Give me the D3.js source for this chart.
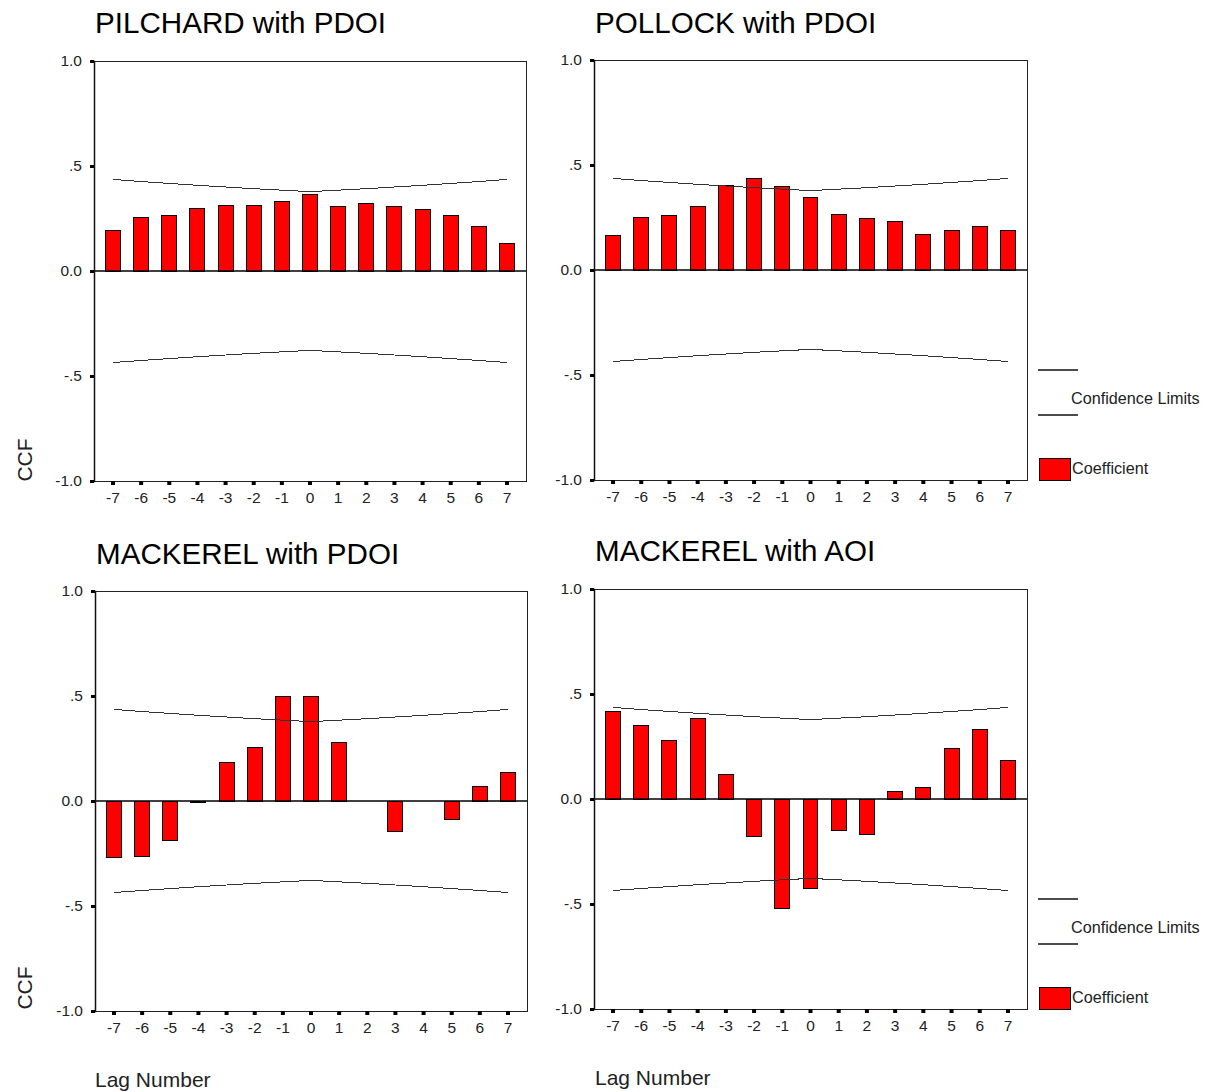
<!DOCTYPE html>
<html>
<head>
<meta charset="utf-8">
<script src="https://cdn.jsdelivr.net/npm/d3@7"></script>
<style>
  html, body { margin: 0; padding: 0; background: #fff; }
  svg { display: block; font-family: "Liberation Sans", Arial, sans-serif; }
</style>
</head>
<body>
<svg id="chart" width="1205" height="1092"></svg>
<script>
// Lags of the cross-correlation function
const lags = [-7, -6, -5, -4, -3, -2, -1, 0, 1, 2, 3, 4, 5, 6, 7];

// Y axis ticks and their printed labels
const yTicks = [1, 0.5, 0, -0.5, -1];
const yTickLabels = ["1.0", ".5", "0.0", "-.5", "-1.0"];

// Upper confidence limit per lag (lower limit is the negative)
const confLimit = [0.436, 0.426, 0.417, 0.408, 0.400, 0.392, 0.385, 0.378,
                   0.385, 0.392, 0.400, 0.408, 0.417, 0.426, 0.436];

// Cross-correlation coefficients per lag
const pilchardPdoi = [0.195, 0.254, 0.263, 0.298, 0.314, 0.314, 0.329, 0.365,
                      0.306, 0.321, 0.306, 0.292, 0.263, 0.211, 0.130];
const pollockPdoi  = [0.162, 0.249, 0.259, 0.302, 0.402, 0.435, 0.398, 0.346,
                      0.265, 0.243, 0.229, 0.170, 0.190, 0.205, 0.190];
const mackerelPdoi = [-0.270, -0.262, -0.190, -0.008, 0.182, 0.257, 0.498, 0.498,
                      0.278, 0.000, -0.146, 0.000, -0.088, 0.067, 0.138];
const mackerelAoi  = [0.418, 0.351, 0.278, 0.381, 0.118, -0.178, -0.522, -0.425,
                      -0.148, -0.170, 0.037, 0.057, 0.241, 0.329, 0.182];

const titles = ["PILCHARD with PDOI", "POLLOCK with PDOI", "MACKEREL with PDOI", "MACKEREL with AOI"];
const seriesList = [pilchardPdoi, pollockPdoi, mackerelPdoi, mackerelAoi];

// Panel placement (plot frame origin, title baseline)
const layout = [
  { x: 94,  y: 61,  w: 432, titleY: 33 },
  { x: 594, y: 60,  w: 433, titleY: 33 },
  { x: 95,  y: 591, w: 432, titleY: 564 },
  { x: 594, y: 589, w: 433, titleY: 561 }
];
const plotH = 420;

const svg = d3.select("#chart");

layout.forEach((L, i) => {
  const data = lags.map((lag, j) => ({ lag, value: seriesList[i][j], limit: confLimit[j] }));

  const x = d3.scaleBand().domain(lags).range([0, L.w]).paddingInner(0.47).paddingOuter(0.41);
  const y = d3.scaleLinear().domain([-1, 1]).range([plotH, 0]);

  // title
  svg.append("text")
    .attr("x", L.x + 1).attr("y", L.titleY)
    .attr("font-size", 29.6).attr("fill", "#000")
    .text(titles[i]);

  const g = svg.append("g").attr("transform", `translate(${L.x},${L.y})`);

  // frame
  g.append("rect")
    .attr("x", 0).attr("y", 0).attr("width", L.w).attr("height", plotH)
    .attr("fill", "none").attr("stroke", "#222").attr("stroke-width", 1)
    .attr("shape-rendering", "crispEdges");

  // bars
  g.selectAll("rect.bar").data(data).join("rect")
    .attr("class", "bar")
    .attr("x", d => x(d.lag))
    .attr("width", x.bandwidth())
    .attr("y", d => y(Math.max(0, d.value)))
    .attr("height", d => Math.abs(y(d.value) - y(0)))
    .attr("fill", "#ff0000")
    .attr("stroke", "#000").attr("stroke-width", 1)
    .attr("shape-rendering", "crispEdges");

  // zero reference line
  g.append("line")
    .attr("x1", 0).attr("x2", L.w)
    .attr("y1", y(0)).attr("y2", y(0))
    .attr("stroke", "#000").attr("stroke-width", 1.3);

  // confidence limits
  const cx = d => x(d.lag) + x.bandwidth() / 2;
  const upper = d3.line().x(cx).y(d => y(d.limit));
  const lower = d3.line().x(cx).y(d => y(-d.limit));
  [upper, lower].forEach(gen => {
    g.append("path").attr("d", gen(data))
      .attr("fill", "none").attr("stroke", "#333").attr("stroke-width", 1)
      .attr("shape-rendering", "crispEdges");
  });

  // y axis
  const yAxis = g.append("g")
    .call(d3.axisLeft(y).tickValues(yTicks).tickSize(4).tickPadding(8)
      .tickFormat((d, k) => yTickLabels[k]));
  yAxis.select(".domain").attr("stroke", "#111").attr("stroke-width", 1.5);
  yAxis.selectAll(".tick line").attr("stroke", "#000").attr("stroke-width", 3);
  yAxis.selectAll(".tick text").attr("font-size", 15.5).attr("fill", "#222")
    .attr("font-family", "Liberation Sans, Arial, sans-serif");

  // x axis
  const xAxis = g.append("g").attr("transform", `translate(0,${plotH})`)
    .call(d3.axisBottom(x).tickSize(4).tickPadding(7));
  xAxis.select(".domain").remove();
  xAxis.selectAll(".tick line").attr("stroke", "#000").attr("stroke-width", 4);
  xAxis.selectAll(".tick text").attr("font-size", 15.5).attr("fill", "#222")
    .attr("font-family", "Liberation Sans, Arial, sans-serif");
});

// axis titles
[460, 988].forEach(cy => {
  svg.append("text")
    .attr("transform", `translate(32,${cy}) rotate(-90)`)
    .attr("text-anchor", "middle")
    .attr("font-size", 21).attr("fill", "#222")
    .text("CCF");
});
[{ x: 95, y: 1087 }, { x: 595, y: 1085 }].forEach(p => {
  svg.append("text")
    .attr("x", p.x).attr("y", p.y)
    .attr("font-size", 21).attr("fill", "#222")
    .text("Lag Number");
});

// legends
[0, 529].forEach(dy => {
  const lg = svg.append("g").attr("transform", `translate(0,${dy})`);
  [370, 415].forEach(ly => {
    lg.append("line")
      .attr("x1", 1038).attr("x2", 1078).attr("y1", ly).attr("y2", ly)
      .attr("stroke", "#111").attr("stroke-width", 1.3);
  });
  lg.append("text").attr("x", 1071).attr("y", 404)
    .attr("font-size", 16.2).attr("fill", "#222").text("Confidence Limits");
  lg.append("rect")
    .attr("x", 1039).attr("y", 458).attr("width", 31).attr("height", 22)
    .attr("fill", "#ff0000").attr("stroke", "#000").attr("stroke-width", 1)
    .attr("shape-rendering", "crispEdges");
  lg.append("text").attr("x", 1072).attr("y", 474)
    .attr("font-size", 16.2).attr("fill", "#222").text("Coefficient");
});
</script>
</body>
</html>
